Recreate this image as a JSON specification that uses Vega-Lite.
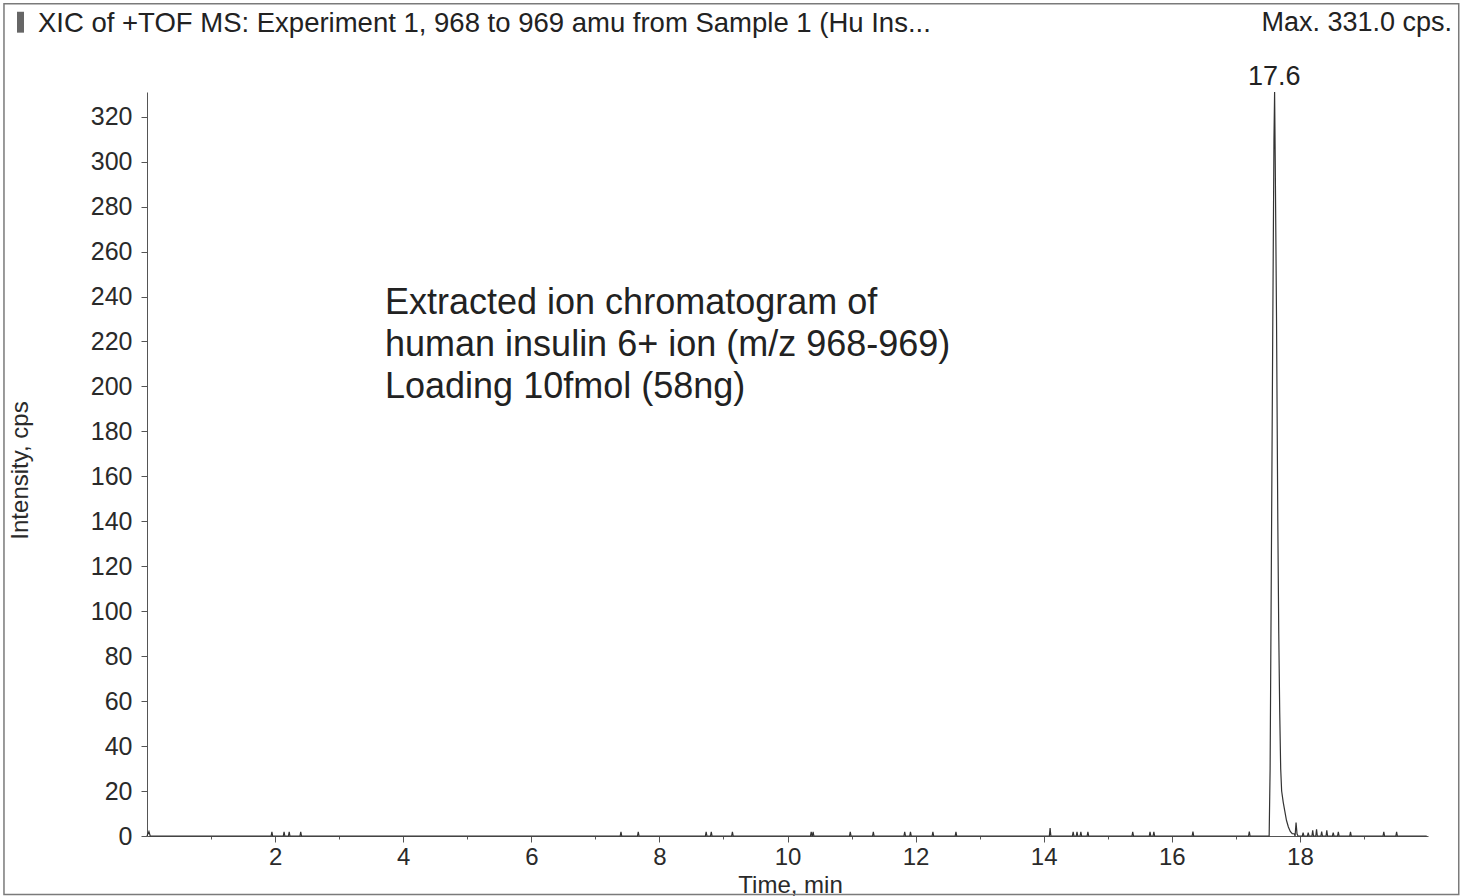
{
  "$schema": "https://vega.github.io/schema/vega-lite/v6.json",
  "width": 1281,
  "height": 744,
  "autosize": {"type": "none"},
  "padding": {"left": 147, "top": 92, "right": 40, "bottom": 60},
  "background": "white",
  "config": {"view": {"stroke": null}, "font": "Liberation Sans"},
  "data": {"values": [
    {"t": 0, "i": 0}, {"t": 0.03, "i": 2}, {"t": 0.05, "i": 0},
    {"t": 1.938, "i": 0}, {"t": 1.95, "i": 1.8}, {"t": 1.962, "i": 0},
    {"t": 2.128, "i": 0}, {"t": 2.14, "i": 1.8}, {"t": 2.152, "i": 0},
    {"t": 2.208, "i": 0}, {"t": 2.22, "i": 1.8}, {"t": 2.232, "i": 0},
    {"t": 2.388, "i": 0}, {"t": 2.4, "i": 1.8}, {"t": 2.412, "i": 0},
    {"t": 7.388, "i": 0}, {"t": 7.4, "i": 1.8}, {"t": 7.412, "i": 0},
    {"t": 7.658, "i": 0}, {"t": 7.67, "i": 1.8}, {"t": 7.682, "i": 0},
    {"t": 8.718, "i": 0}, {"t": 8.73, "i": 1.8}, {"t": 8.742, "i": 0},
    {"t": 8.798, "i": 0}, {"t": 8.81, "i": 1.8}, {"t": 8.822, "i": 0},
    {"t": 9.128, "i": 0}, {"t": 9.14, "i": 1.8}, {"t": 9.152, "i": 0},
    {"t": 10.358, "i": 0}, {"t": 10.37, "i": 1.8}, {"t": 10.382, "i": 0},
    {"t": 10.388, "i": 0}, {"t": 10.4, "i": 1.8}, {"t": 10.412, "i": 0},
    {"t": 10.968, "i": 0}, {"t": 10.98, "i": 1.8}, {"t": 10.992, "i": 0},
    {"t": 11.328, "i": 0}, {"t": 11.34, "i": 1.8}, {"t": 11.352, "i": 0},
    {"t": 11.818, "i": 0}, {"t": 11.83, "i": 1.8}, {"t": 11.842, "i": 0},
    {"t": 11.908, "i": 0}, {"t": 11.92, "i": 1.8}, {"t": 11.932, "i": 0},
    {"t": 12.258, "i": 0}, {"t": 12.27, "i": 1.8}, {"t": 12.282, "i": 0},
    {"t": 12.618, "i": 0}, {"t": 12.63, "i": 1.8}, {"t": 12.642, "i": 0},
    {"t": 14.088, "i": 0}, {"t": 14.1, "i": 3.5}, {"t": 14.112, "i": 0},
    {"t": 14.448, "i": 0}, {"t": 14.46, "i": 1.8}, {"t": 14.472, "i": 0},
    {"t": 14.508, "i": 0}, {"t": 14.52, "i": 1.8}, {"t": 14.532, "i": 0},
    {"t": 14.568, "i": 0}, {"t": 14.58, "i": 1.8}, {"t": 14.592, "i": 0},
    {"t": 14.678, "i": 0}, {"t": 14.69, "i": 1.8}, {"t": 14.702, "i": 0},
    {"t": 15.378, "i": 0}, {"t": 15.39, "i": 1.8}, {"t": 15.402, "i": 0},
    {"t": 15.648, "i": 0}, {"t": 15.66, "i": 1.8}, {"t": 15.672, "i": 0},
    {"t": 15.708, "i": 0}, {"t": 15.72, "i": 1.8}, {"t": 15.732, "i": 0},
    {"t": 16.318, "i": 0}, {"t": 16.33, "i": 2}, {"t": 16.342, "i": 0},
    {"t": 17.198, "i": 0}, {"t": 17.21, "i": 2}, {"t": 17.222, "i": 0},
    {"t": 17.52, "i": 0}, {"t": 17.535, "i": 30}, {"t": 17.55, "i": 100},
    {"t": 17.575, "i": 220}, {"t": 17.595, "i": 310}, {"t": 17.605, "i": 331},
    {"t": 17.615, "i": 300}, {"t": 17.635, "i": 230}, {"t": 17.655, "i": 140},
    {"t": 17.67, "i": 90}, {"t": 17.685, "i": 55}, {"t": 17.7, "i": 30},
    {"t": 17.715, "i": 20}, {"t": 17.74, "i": 15}, {"t": 17.765, "i": 11},
    {"t": 17.79, "i": 7}, {"t": 17.82, "i": 4}, {"t": 17.85, "i": 2},
    {"t": 17.88, "i": 1}, {"t": 17.91, "i": 1}, {"t": 17.925, "i": 0},
    {"t": 17.94, "i": 6}, {"t": 17.955, "i": 1}, {"t": 17.97, "i": 0},
    {"t": 18.038, "i": 0}, {"t": 18.05, "i": 1.5}, {"t": 18.062, "i": 0},
    {"t": 18.118, "i": 0}, {"t": 18.13, "i": 1.5}, {"t": 18.142, "i": 0},
    {"t": 18.188, "i": 0}, {"t": 18.2, "i": 2.5}, {"t": 18.212, "i": 0},
    {"t": 18.248, "i": 0}, {"t": 18.26, "i": 3}, {"t": 18.272, "i": 0},
    {"t": 18.328, "i": 0}, {"t": 18.34, "i": 2}, {"t": 18.352, "i": 0},
    {"t": 18.408, "i": 0}, {"t": 18.42, "i": 2.5}, {"t": 18.432, "i": 0},
    {"t": 18.508, "i": 0}, {"t": 18.52, "i": 1.5}, {"t": 18.532, "i": 0},
    {"t": 18.588, "i": 0}, {"t": 18.6, "i": 1.8}, {"t": 18.612, "i": 0},
    {"t": 18.778, "i": 0}, {"t": 18.79, "i": 1.8}, {"t": 18.802, "i": 0},
    {"t": 19.298, "i": 0}, {"t": 19.31, "i": 1.8}, {"t": 19.322, "i": 0},
    {"t": 19.498, "i": 0}, {"t": 19.51, "i": 1.8}, {"t": 19.522, "i": 0},
    {"t": 19.98, "i": 0}
  ]},
  "layer": [
    {
      "mark": {"type": "line", "color": "#333333", "strokeWidth": 1.2, "interpolate": "linear"},
      "encoding": {
        "x": {
          "field": "t", "type": "quantitative",
          "scale": {"domain": [0, 20], "nice": false, "zero": false},
          "axis": {
            "title": "Time, min",
            "format": "d",
            "values": [1, 2, 3, 4, 5, 6, 7, 8, 9, 10, 11, 12, 13, 14, 15, 16, 17, 18, 19],
            "labelExpr": "datum.value % 2 == 0 ? datum.label : ''",
            "tickSize": {"condition": {"test": "datum.value % 2 == 0", "value": 6}, "value": 3},
            "grid": false,
            "domainColor": "#555555", "tickColor": "#555555",
            "labelFontSize": 24, "labelColor": "#2a2a2a", "labelPadding": 3,
            "labelFont": "Liberation Sans",
            "titleFontSize": 24, "titleFontWeight": "normal", "titleColor": "#2a2a2a",
            "titleFont": "Liberation Sans",
            "titleX": 643, "titleY": 56, "titleBaseline": "alphabetic", "titleAlign": "center"
          }
        },
        "y": {
          "field": "i", "type": "quantitative",
          "scale": {"domain": [0, 331], "nice": false},
          "axis": {
            "title": "Intensity, cps",
            "format": "d",
            "values": [0, 10, 20, 30, 40, 50, 60, 70, 80, 90, 100, 110, 120, 130, 140, 150, 160, 170, 180, 190, 200, 210, 220, 230, 240, 250, 260, 270, 280, 290, 300, 310, 320, 330],
            "labelExpr": "datum.value % 20 == 0 ? datum.label : ''",
            "tickSize": {"condition": {"test": "datum.value % 20 == 0", "value": 6}, "value": 3},
            "grid": false,
            "domainColor": "#555555", "tickColor": "#555555",
            "labelFontSize": 25, "labelColor": "#2a2a2a", "labelPadding": 9,
            "labelFont": "Liberation Sans",
            "titleFontSize": 24, "titleFontWeight": "normal", "titleColor": "#2a2a2a",
            "titleFont": "Liberation Sans",
            "titleX": -127, "titleY": 378, "titleAngle": -90,
            "titleAlign": "center", "titleBaseline": "middle"
          }
        }
      }
    },
    {
      "data": {"values": [{}]},
      "mark": {"type": "rect", "fill": null, "fillOpacity": 0, "stroke": "#7a7a7a", "strokeWidth": 1.5, "clip": false},
      "encoding": {
        "x": {"datum": -2.233}, "x2": {"datum": 20.48},
        "y": {"datum": 370.3}, "y2": {"datum": -26}
      }
    },
    {
      "data": {"values": [{}]},
      "mark": {"type": "rect", "fill": "#666666", "clip": false},
      "encoding": {
        "x": {"datum": -2.03}, "x2": {"datum": -1.92},
        "y": {"datum": 366.7}, "y2": {"datum": 357.4}
      }
    },
    {
      "data": {"values": [{}]},
      "mark": {"type": "text", "align": "left", "baseline": "alphabetic", "font": "Liberation Sans", "fontSize": 27.5, "color": "#222222",
        "text": "XIC of +TOF MS: Experiment 1, 968 to 969 amu from Sample 1 (Hu Ins..."},
      "encoding": {"x": {"datum": -1.702}, "y": {"datum": 357.8}}
    },
    {
      "data": {"values": [{}]},
      "mark": {"type": "text", "align": "right", "baseline": "alphabetic", "font": "Liberation Sans", "fontSize": 27, "color": "#222222",
        "text": "Max. 331.0 cps."},
      "encoding": {"x": {"datum": 20.375}, "y": {"datum": 358}}
    },
    {
      "data": {"values": [{}]},
      "mark": {"type": "text", "align": "center", "baseline": "alphabetic", "dy": -7, "font": "Liberation Sans", "fontSize": 27, "color": "#222222",
        "text": "17.6"},
      "encoding": {"x": {"datum": 17.6}, "y": {"datum": 331}}
    },
    {
      "data": {"values": [{}]},
      "mark": {"type": "text", "align": "left", "baseline": "alphabetic", "font": "Liberation Sans", "fontSize": 36, "lineHeight": 42, "color": "#222222",
        "text": ["Extracted ion chromatogram of", "human insulin 6+ ion (m/z 968-969)", "Loading 10fmol (58ng)"]},
      "encoding": {"x": {"datum": 3.716}, "y": {"datum": 232.3}}
    }
  ]
}
